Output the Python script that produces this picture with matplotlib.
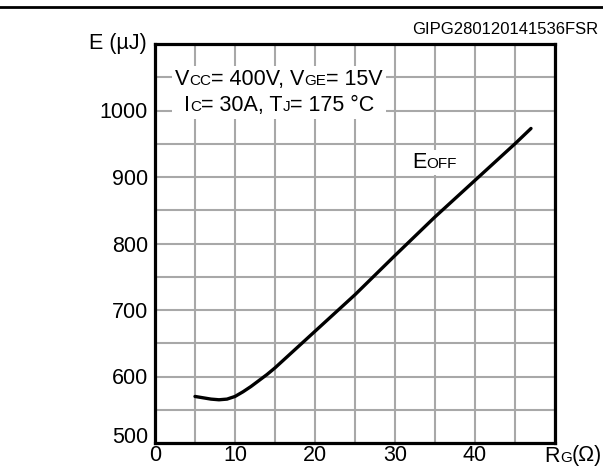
import matplotlib
matplotlib.use("Agg")
import matplotlib.pyplot as plt
from matplotlib.lines import Line2D
from matplotlib.offsetbox import TextArea, HPacker, VPacker, AnnotationBbox
import matplotlib.transforms as mtransforms

# ---- data ----
rg = [5, 6, 7, 8, 9, 10, 11, 12, 13, 14, 15, 16, 17, 18, 20, 25, 30, 35, 40, 45, 47]
eoff = [570, 568, 566, 565, 566, 570, 577, 585, 594, 603, 613, 624, 635, 646, 668,
        723, 782, 840, 895, 950, 973]
xticks = [0, 10, 20, 30, 40]
yticks = [500, 600, 700, 800, 900, 1000]

FONT = "Liberation Sans"
BIG = 15.5
SMALL = 11
plt.rcParams['font.family'] = [FONT, 'DejaVu Sans']

W, H = 603, 468
fig = plt.figure(figsize=(W / 100, H / 100), dpi=100)
ax = fig.add_axes([155 / W, 25 / H, 400 / W, 399 / H])

ax.set_xlim(0, 50)
ax.set_ylim(500, 1100)
ax.set_xticks(range(0, 51, 5))
ax.set_yticks(range(500, 1101, 50))
ax.grid(True, color="#a8a8a8", lw=1.5)
ax.set_axisbelow(True)
ax.tick_params(length=0, labelsize=BIG, colors="black")
ax.tick_params(axis="y", pad=5)
ax.tick_params(axis="x", pad=1.2)
ax.set_xticklabels([str(v) if v in xticks else "" for v in range(0, 51, 5)])
ax.set_yticklabels([str(v) if v in yticks else "" for v in range(500, 1101, 50)])
for s in ax.spines.values():
    s.set_linewidth(2.3)
    s.set_color("black")

# raise the "500" label slightly
for lab in ax.get_yticklabels():
    if lab.get_text() == "500":
        lab.set_transform(lab.get_transform() +
                          mtransforms.ScaledTranslation(0, 8 / 100, fig.dpi_scale_trans))

ax.plot(rg, eoff, color="black", lw=2.4, solid_capstyle="round",
        solid_joinstyle="round", zorder=3)


def mixed(parts):
    return HPacker(children=[TextArea(s, textprops=dict(size=sz, family=FONT, color="black"))
                             for s, sz in parts],
                   align="baseline", pad=0, sep=0)


l1 = mixed([("V", BIG), ("CC", SMALL), ("= 400V, V", BIG), ("GE", SMALL), ("= 15V", BIG)])
l2 = mixed([("I", BIG), ("C", SMALL), ("= 30A, T", BIG), ("J", SMALL), ("= 175 °C", BIG)])
vp = VPacker(children=[l1, l2], align="center", pad=0, sep=4)
ab = AnnotationBbox(vp, (15.5, 1027), xycoords="data", frameon=True, pad=0.2,
                    bboxprops=dict(fc="white", ec="none"), box_alignment=(0.5, 0.5), zorder=4)
ax.add_artist(ab)

eo = mixed([("E", BIG), ("OFF", SMALL)])
ab2 = AnnotationBbox(eo, (34.9, 922), xycoords="data", frameon=True, pad=0.15,
                     bboxprops=dict(fc="white", ec="none"), box_alignment=(0.5, 0.5), zorder=4)
ax.add_artist(ab2)

rgl = mixed([("R", BIG), ("G", SMALL), ("(Ω)", BIG)])
ab3 = AnnotationBbox(rgl, (602 / W, 1 - 456 / H), xycoords="figure fraction", frameon=False,
                     pad=0, box_alignment=(1, 0.5), annotation_clip=False)
fig.add_artist(ab3)

fig.text(147 / W, 1 - 44 / H, "E (µJ)", ha="right", va="center", fontsize=BIG)
fig.text(598 / W, 1 - 29 / H, "GIPG280120141536FSR", ha="right", va="center", fontsize=12)

fig.add_artist(Line2D([0, 1], [1 - 7 / H, 1 - 7 / H], lw=2, color="black",
                      transform=fig.transFigure))

fig.savefig("out.png", dpi=100)
